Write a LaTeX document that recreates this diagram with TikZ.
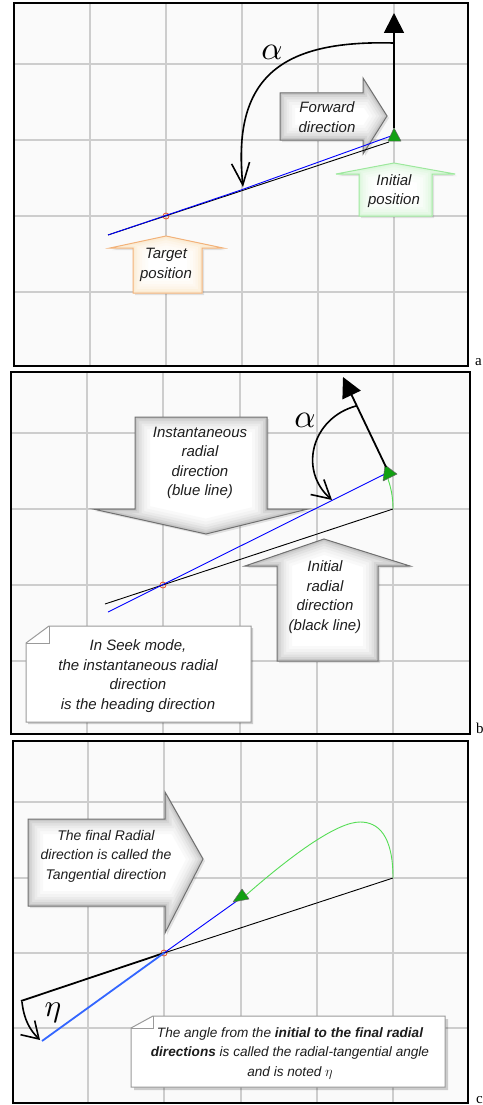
\documentclass[tikz,border=0pt]{standalone}
\usepackage{fontspec}
\setmainfont{Liberation Sans}
\newfontfamily\panelfont{Liberation Serif}
\usetikzlibrary{arrows.meta}
\definecolor{bgc}{HTML}{FAFAFA}
\definecolor{gridc}{HTML}{CDCDCD}
\definecolor{tred}{HTML}{E8502A}
\definecolor{agentg}{HTML}{12A012}
\definecolor{trail}{HTML}{55DD55}
\definecolor{txt}{HTML}{1E1E1E}
\definecolor{lblue}{HTML}{3366FF}
\definecolor{shapeline}{HTML}{707070}
\definecolor{glowgray}{HTML}{9A9A9A}
\definecolor{greenline}{HTML}{9DE89D}
\definecolor{greenglow}{HTML}{C4F0C4}
\definecolor{orangeline}{HTML}{F2B27A}
\definecolor{orangeglow}{HTML}{F8DDB4}
\definecolor{notegray}{HTML}{9A9A9A}

\newcommand{\glowshape}[3]{%
  \fill[black,opacity=0.10,shift={(2,2)}] #1;
  \fill[white] #1;
  \begin{scope}
    \clip #1;
    \foreach \w/\p in {30/6,24/12,18/20,13/30,8/42,4/56} {\draw[#2!\p, line width=\w pt] #1;}
  \end{scope}
  \draw[#3, line width=1pt, line join=miter] #1;
}

\tikzset{
  frame/.style={draw=black, line width=1.8pt},
  gridline/.style={draw=gridc, line width=1.2pt},
  radial/.style={draw=black, line width=0.9pt},
  radialthick/.style={draw=black, line width=1.8pt},
  bluel/.style={draw=blue, line width=0.9pt},
  bluethick/.style={draw=lblue, line width=1.8pt},
  heading/.style={draw=black, line width=1.8pt, -{Triangle[length=20pt,width=20pt]}},
  anglearc/.style={draw=black, line width=1.6pt},
  targetmark/.style={circle, draw=tred, line width=0.8pt, minimum size=6pt, inner sep=0pt},
  agent/.style={fill=agentg, draw=black!60, line width=0.5pt, line join=round},
  trailline/.style={draw=trail, line width=0.9pt},
  lbl/.style={font=\fontsize{15}{19.5}\selectfont\itshape, text=txt, align=center, inner sep=0pt},
  lblc/.style={font=\fontsize{14}{19.5}\selectfont\itshape, text=txt, align=center, inner sep=0pt},
  greek/.style={inner sep=0pt, scale=3.3},
  panelletter/.style={font=\fontsize{15}{15}\selectfont\panelfont, anchor=base west, inner sep=0pt},
  notebox/.style={fill=white, draw=notegray, line width=1pt},
  noteshadow/.style={fill=black, opacity=0.18},
}

\begin{document}
\begin{tikzpicture}[x=1pt,y=-1pt]
\useasboundingbox (0,0) rectangle (482,1105);
\fill[white] (0,0) rectangle (482,1105);

% ================= panel a =================
\coordinate (fa1) at (14,3); \coordinate (fa2) at (468,366);
\fill[bgc] (fa1) rectangle (fa2);
\begin{scope}
  \clip (fa1) rectangle (fa2);
  \foreach \x in {90,166,242,318,394} \draw[gridline] (\x,3) -- (\x,366);
  \foreach \y in {64,140,216,292} \draw[gridline] (14,\y) -- (468,\y);
\end{scope}

\glowshape{(280,93) -- (363,93) -- (363,78) -- (387,116) -- (363,154) -- (363,140) -- (280,140) -- cycle}{glowgray}{shapeline}
\glowshape{(394,163) -- (455,174) -- (432,174) -- (432,216) -- (359,216) -- (359,174) -- (336,174) -- cycle}{greenglow}{greenline}
\glowshape{(166,236) -- (223,248) -- (202,248) -- (202,293) -- (133,293) -- (133,248) -- (110,248) -- cycle}{orangeglow}{orangeline}

\node[lbl] (fwd) at (327,117) {Forward\\direction};
\node[lbl] (inipos) at (394,191) {Initial\\position};
\node[lbl] (tgtpos) at (166,265) {Target\\position};

\coordinate (aStart) at (108,235);
\coordinate (aIni) at (394,140);
\node[targetmark] (ta) at (166,216) {};
\draw[radial] (aStart) -- (389,142);
\draw[bluel, line join=round] (aStart) -- (241,190) -- (391,136);
\draw[agent] (388,141) -- (394,128) -- (401,141) -- cycle;
\coordinate (aBase) at (394,128);
\coordinate (aHead) at (394,13);
\draw[heading] (aBase) -- (aHead);
\coordinate (aArc1) at (393,43);
\coordinate (aArc2) at (243,187);
\draw[anglearc, -{Straight Barb[length=22pt,width=18pt,line width=1.6pt]}] (aArc1) .. controls (280,40) and (232,78) .. (aArc2);
\node[greek] (alphaA) at (272,52) {$\alpha$};

\draw[frame] (fa1) rectangle (fa2);
\node[panelletter] (la) at (475,365) {a};

% ================= panel b =================
\coordinate (fb1) at (11,372); \coordinate (fb2) at (470,734);
\fill[bgc] (fb1) rectangle (fb2);
\begin{scope}
  \clip (fb1) rectangle (fb2);
  \foreach \x in {87,163,240,317,393} \draw[gridline] (\x,372) -- (\x,734);
  \foreach \y in {433,509,585,661} \draw[gridline] (11,\y) -- (470,\y);
\end{scope}

\glowshape{(135,417) -- (267,417) -- (267,509) -- (308,509) -- (206,534) -- (93,509) -- (135,509) -- cycle}{glowgray}{shapeline}
\glowshape{(324,539) -- (410,566) -- (378,566) -- (378,661) -- (277,661) -- (277,566) -- (245,566) -- cycle}{glowgray}{shapeline}

\fill[noteshadow,shift={(2,2)}] (49,626) -- (251,626) -- (251,722) -- (26,722) -- (26,643) -- cycle;
\draw[notebox] (49,626) -- (251,626) -- (251,722) -- (26,722) -- (26,643) -- cycle;
\draw[draw=notegray, line width=1pt] (26,643) -- (49,643) -- (49,626);

\node[lbl] (instr) at (200,463) {Instantaneous\\radial\\direction\\(blue line)};
\node[lbl] (inirad) at (325,597) {Initial\\radial\\direction\\(black line)};
\node[lbl] (seek) at (138,676) {In Seek mode,\\the instantaneous radial\\direction\\is the heading direction};

\node[targetmark] (tb) at (163,585) {};
\coordinate (bIni) at (393,509);
\coordinate (bStart) at (105,604);
\coordinate (bBlue1) at (108,612);
\coordinate (bBlue2) at (387,473);
\draw[radial] (bStart) -- (bIni);
\draw[bluel] (bBlue1) -- (bBlue2);
\draw[trailline] (bIni) .. controls (393,497) and (391,488) .. (388,479);
\draw[agent] (383,481) -- (385,465) -- (397,474) -- cycle;
\coordinate (bBase) at (386,467);
\coordinate (bHead) at (343,377);
\draw[heading] (bBase) -- (bHead);
\coordinate (bArc1) at (356,406);
\coordinate (bArc2) at (332,500);
\draw[anglearc, -{Straight Barb[length=18pt,width=20pt,line width=1.6pt]}] (bArc1) .. controls (312,418) and (298,470) .. (bArc2);
\node[greek] (alphaB) at (305,420) {$\alpha$};

\draw[frame] (fb1) rectangle (fb2);
\node[panelletter] (lb) at (476,733) {b};

% ================= panel c =================
\coordinate (fc1) at (13,741); \coordinate (fc2) at (468,1103);
\fill[bgc] (fc1) rectangle (fc2);
\begin{scope}
  \clip (fc1) rectangle (fc2);
  \foreach \x in {88,164,241,317,393} \draw[gridline] (\x,741) -- (\x,1103);
  \foreach \y in {802,878,953,1028} \draw[gridline] (13,\y) -- (468,\y);
\end{scope}

\glowshape{(28,819) -- (165,819) -- (165,792) -- (203,859) -- (165,933) -- (165,906) -- (28,906) -- cycle}{glowgray}{shapeline}
\node[lblc] (tang) at (106,856) {The final Radial\\direction is called the\\Tangential direction};

\fill[noteshadow,shift={(3,3)}] (153,1016) -- (445,1016) -- (445,1087) -- (131,1087) -- (131,1028) -- cycle;
\draw[notebox] (153,1016) -- (445,1016) -- (445,1087) -- (131,1087) -- (131,1028) -- cycle;
\draw[draw=notegray, line width=1pt] (131,1028) -- (153,1028) -- (153,1016);
\node[lblc, font=\fontsize{13.6}{19.5}\selectfont\itshape] (etanote) at (290,1053) {The angle from the \textbf{initial to the final radial}\\\textbf{directions} is called the radial-tangential angle\\and is noted $\eta$};

\node[targetmark] (tc) at (164,953) {};
\coordinate (cIni) at (393,878);
\coordinate (cBlack) at (21,1001);
\coordinate (cAgent) at (241,898);
\coordinate (cBlue) at (42,1041);
\draw[radial] (cIni) -- (tc.center);
\draw[radialthick] (tc.center) -- (cBlack);
\draw[bluel] (cAgent) -- (tc.center);
\draw[bluethick] (tc.center) -- (cBlue);
\draw[trailline] (cIni) .. controls (393,835) and (378,822) .. (360,822) .. controls (338,822) and (295,852) .. (245,896);
\draw[agent] (233,902) -- (242,889) -- (249,899) -- cycle;
\coordinate (cArc1) at (22,1002);
\coordinate (cArc2) at (40,1040);
\draw[anglearc, -{Straight Barb[length=16pt,width=20pt,line width=1.6pt]}] (cArc1) .. controls (24,1020) and (30,1030) .. (cArc2);
\node[greek, scale=0.95] (etaC) at (53,1013) {$\eta$};

\draw[frame] (fc1) rectangle (fc2);
\node[panelletter] (lc) at (476,1103) {c};
\end{tikzpicture}
\end{document}
